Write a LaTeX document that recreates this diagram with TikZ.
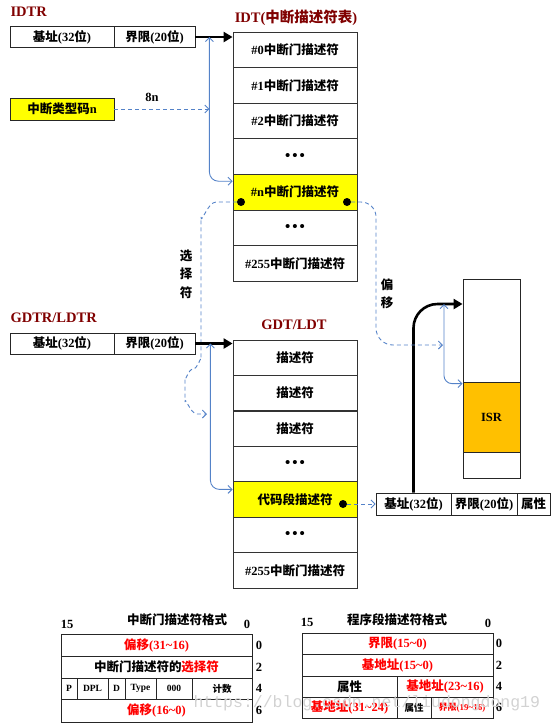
\documentclass[tikz,border=0pt]{standalone}
\usepackage{fontspec}
\setmainfont{Liberation Serif}
\newfontfamily\cjkf{Noto Sans CJK SC}
\newfontfamily\wmfont{Liberation Mono}
\usetikzlibrary{arrows.meta,calc}
\newcommand{\zh}[1]{{\cjkf #1}}
\newcommand{\dotsrow}{\fontsize{15}{16}\selectfont •\hspace{2pt}•\hspace{2pt}•}
\definecolor{titlered}{RGB}{128,0,0}
\definecolor{lineblue}{RGB}{84,130,200}
\definecolor{isrorange}{RGB}{255,192,0}
\definecolor{hiyellow}{RGB}{255,255,0}
\begin{document}
\begin{tikzpicture}[x=1pt,y=-1pt,
  font=\bfseries\fontsize{12.5}{14}\selectfont,
  box/.style={draw=black!85, line width=0.8pt, inner sep=0pt, minimum height=21pt},
  row/.style={draw=black!80, line width=0.8pt, inner sep=0pt, minimum width=124pt, minimum height=35.6pt},
  tcell/.style={draw=black!85, line width=0.8pt, inner sep=0pt},
  ttl/.style={text=titlered, font=\bfseries\fontsize{14.5}{16}\selectfont},
  lbl/.style={font=\bfseries\fontsize{12.5}{14}\selectfont},
  small/.style={font=\bfseries\fontsize{9.5}{11}\selectfont},
  thickarrow/.style={line width=2.6pt, -{Triangle[length=9pt,width=10pt]}},
  bluesolid/.style={draw=lineblue, line width=0.9pt, {Straight Barb[length=4pt,width=8pt]}-{Straight Barb[length=4pt,width=8pt]}},
  bluedash/.style={draw=lineblue, line width=0.9pt, dash pattern=on 4pt off 3pt, -{Straight Barb[length=4pt,width=8pt]}},
  dot/.style={circle, fill=black, inner sep=0pt, minimum size=8pt}]
\useasboundingbox (0,0) rectangle (554,724);

% ---------- IDTR ----------
\node[ttl, anchor=west] (idtrT) at (7,12) {IDTR};
\node[box, minimum width=104pt] (idtrBase) at (62,37) {\zh{基址}(32\zh{位})};
\node[box, minimum width=81pt] (idtrLim) at (154.5,37) {\zh{界限}(20\zh{位})};
\node[box, fill=hiyellow, minimum width=104pt, minimum height=22pt] (typecode) at (62,109) {\zh{中断类型码}n};
\node[lbl] (lbl8n) at (152,97) {8n};

% ---------- IDT ----------
\node[ttl] (idtT) at (296,18) {IDT(\zh{中断描述符表})};
\node[row] (idt0) at (295,49.8) {\#0\zh{中断门描述符}};
\node[row] (idt1) at (295,85.4) {\#1\zh{中断门描述符}};
\node[row] (idt2) at (295,121) {\#2\zh{中断门描述符}};
\node[row] (idt3) at (295,156.6) {\dotsrow};
\node[row, fill=hiyellow] (idtn) at (295,192.2) {\#n\zh{中断门描述符}};
\node[row] (idt5) at (295,227.8) {\dotsrow};
\node[row] (idt6) at (295,263.4) {\#255\zh{中断门描述符}};
\node[dot] (dotL) at (241,202) {};
\node[dot] (dotR) at (347,202) {};

\draw[thickarrow] (idtrLim.east) -- (idtrLim.east -| idt0.west);
\coordinate (idtTap) at ([xshift=14pt]idtrLim.east);
\draw[bluesolid, rounded corners=9pt] (idtTap) |- ([yshift=11pt]idtn.west);
\draw[bluedash] (typecode.east) -- (typecode.east -| idtTap);

% ---------- selector ----------
\node[lbl] (sel1) at (186,256) {\zh{选}};
\node[lbl] (sel2) at (186,274) {\zh{择}};
\node[lbl] (sel3) at (186,293) {\zh{符}};
\coordinate (selEnd) at (207,414);
\draw[bluedash] (dotL.west) -- (216,202) to[out=180,in=270] (201,217) -- (201,360)
  to[out=90,in=0] (193,369) to[out=180,in=270] (185,378) -- (185,402)
  to[out=90,in=180] (197,414) -- (selEnd);

% ---------- GDTR ----------
\node[ttl, anchor=west] (gdtrT) at (7,318) {GDTR/LDTR};
\node[box, minimum width=104pt] (gdtrBase) at (62,343.5) {\zh{基址}(32\zh{位})};
\node[box, minimum width=81pt] (gdtrLim) at (154.5,343.5) {\zh{界限}(20\zh{位})};

% ---------- GDT ----------
\node[ttl] (gdtT) at (294,325) {GDT/LDT};
\node[row, minimum height=35.4pt] (gdt0) at (295,357.7) {\zh{描述符}};
\node[row, minimum height=35.4pt] (gdt1) at (295,393.1) {\zh{描述符}};
\node[row, minimum height=35.4pt] (gdt2) at (295,428.6) {\zh{描述符}};
\node[row, minimum height=35.4pt] (gdt3) at (295,464) {\dotsrow};
\node[row, minimum height=35.4pt, fill=hiyellow] (gdtc) at (295,499.4) {\zh{代码段描述符}};
\node[row, minimum height=35.4pt] (gdt5) at (295,534.9) {\dotsrow};
\node[row, minimum height=35.4pt] (gdt6) at (295,570.3) {\#255\zh{中断门描述符}};
\node[dot] (dotC) at (343,504) {};

\draw[thickarrow] (gdtrLim.east) -- (gdtrLim.east -| gdt0.west);
\coordinate (gdtTap) at ([xshift=15pt]gdtrLim.east);
\draw[bluesolid, rounded corners=9pt] (gdtTap) |- ([yshift=10pt]gdtc.west);

% ---------- segment descriptor ----------
\node[box, minimum width=75pt, minimum height=22pt] (segBase) at (413.5,504) {\zh{基址}(32\zh{位})};
\node[box, minimum width=66pt, minimum height=22pt] (segLim) at (484,504) {\zh{界限}(20\zh{位})};
\node[box, minimum width=33pt, minimum height=22pt] (segAttr) at (533.5,504) {\zh{属性}};
\draw[bluedash] (dotC.east) -- (segBase.west);

% ---------- memory / ISR ----------
\node[tcell, minimum width=57pt, minimum height=103pt] (memTop) at (491.5,330.5) {};
\node[tcell, fill=isrorange, minimum width=57pt, minimum height=70pt] (isr) at (491.5,417) {ISR};
\node[tcell, minimum width=57pt, minimum height=26pt] (memBot) at (491.5,465) {};
\draw[thickarrow, rounded corners=24pt] (segBase.north) |- ([yshift=26.5pt]memTop.west);
\coordinate (isrTap) at (444,304);
\draw[bluesolid, rounded corners=8pt] (isrTap) |- ([yshift=-2pt]isr.north west);

% ---------- offset ----------
\node[lbl] (off1) at (387,285) {\zh{偏}};
\node[lbl] (off2) at (387,303) {\zh{移}};
\coordinate (offEnd) at (443,345);
\draw[bluedash] (dotR.east) -- (361,202) to[out=0,in=90] (376,217) -- (376,328)
  to[out=270,in=180] (393,345) -- (offEnd);

% ---------- interrupt gate format ----------
\node[lbl] (lt15) at (67,624) {15};
\node[lbl] (ltT) at (177,620) {\zh{中断门描述符格式}};
\node[lbl] (lt0) at (247,624) {0};
\node[tcell, minimum width=191pt, minimum height=22pt] (lt1) at (156.5,645) {\color{red}\zh{偏移}(31\textasciitilde16)};
\node[tcell, minimum width=191pt, minimum height=22pt] (lt2) at (156.5,667) {\zh{中断门描述符的}\color{red}\zh{选择符}};
\node[tcell, small, minimum width=16pt, minimum height=21pt] (ltP) at (69,688.5) {P};
\node[tcell, small, minimum width=31pt, minimum height=21pt] (ltDPL) at (92.5,688.5) {DPL};
\node[tcell, small, minimum width=17pt, minimum height=21pt] (ltD) at (116.5,688.5) {D};
\node[tcell, small, minimum width=31pt, minimum height=21pt] (ltType) at (140.5,688.5) {Type};
\node[tcell, small, minimum width=36pt, minimum height=21pt] (lt000) at (174,688.5) {000};
\node[tcell, small, minimum width=60pt, minimum height=21pt] (ltCnt) at (222,688.5) {\zh{计数}};
\node[tcell, minimum width=191pt, minimum height=23pt] (lt4) at (156.5,710.5) {\color{red}\zh{偏移}(16\textasciitilde0)};
\node[lbl] (lo0) at (259,645) {0};
\node[lbl] (lo2) at (259,667) {2};
\node[lbl] (lo4) at (259,688.5) {4};
\node[lbl] (lo6) at (259,710) {6};

% ---------- code segment format ----------
\node[lbl] (rt15) at (307,622) {15};
\node[lbl] (rtT) at (397,620) {\zh{程序段描述符格式}};
\node[lbl] (rt0) at (488,623) {0};
\node[tcell, minimum width=191pt, minimum height=21pt] (rt1) at (397.5,643.5) {\color{red}\zh{界限}(15\textasciitilde0)};
\node[tcell, minimum width=191pt, minimum height=22pt] (rt2) at (397.5,665) {\color{red}\zh{基地址}(15\textasciitilde0)};
\node[tcell, minimum width=95pt, minimum height=21pt] (rtAttr) at (349.5,686.5) {\zh{属性}};
\node[tcell, minimum width=96pt, minimum height=21pt] (rtB2) at (445,686.5) {\color{red}\zh{基地址}(23\textasciitilde16)};
\node[tcell, minimum width=95pt, minimum height=21pt] (rtB3) at (349.5,707.5) {\color{red}\zh{基地址}(31\textasciitilde24)};
\node[tcell, small, minimum width=34pt, minimum height=21pt] (rtAttr2) at (414,707.5) {\zh{属性}};
\node[tcell, minimum width=62pt, minimum height=21pt, font=\bfseries\fontsize{9}{10}\selectfont] (rtLim2) at (462,707.5) {\color{red}\zh{界限}(19\textasciitilde16)};
\node[lbl] (ro0) at (499,643) {0};
\node[lbl] (ro2) at (499,665) {2};
\node[lbl] (ro4) at (499,686.5) {4};
\node[lbl] (ro6) at (499,707) {6};

% watermark
\node[anchor=west, text=gray!35, font=\wmfont\fontsize{16.5}{18}\selectfont] (wm) at (190,703) {https://blog.csdn.net/liudongdong19};
\end{tikzpicture}
\end{document}
